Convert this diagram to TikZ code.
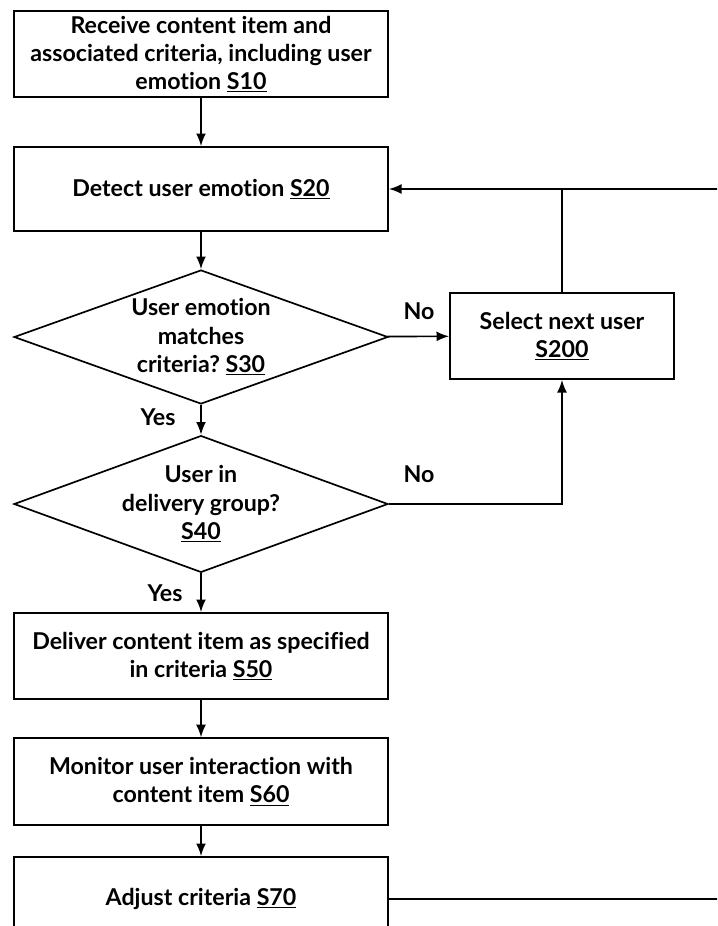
\documentclass[tikz,border=0pt]{standalone}
\usepackage{fontspec}
\setmainfont{Lato}[Ligatures=NoCommon]
\usetikzlibrary{shapes.geometric,arrows.meta}
\frenchspacing

\tikzset{
  stepbox/.style={draw, line width=1.2pt, minimum width=9.35cm, align=center, inner sep=2pt},
  decision/.style={draw, diamond, line width=1.2pt, inner sep=0pt, minimum width=9.35cm},
  flow/.style={line width=1.2pt, -{Latex[length=9pt,width=7pt]}},
  line/.style={line width=1.2pt}
}

\begin{document}
\begin{tikzpicture}[font=\bfseries\fontsize{16.5}{20}\selectfont]
\useasboundingbox (0,0) rectangle (17.925,-23.15);
\clip (0,0) rectangle (17.925,-23.15);
\fill[white] (0,0) rectangle (17.925,-23.15);

\node[stepbox, minimum height=2.15cm] (s10) at (5.025,-1.35) {Receive content item and\\associated criteria, including user\\emotion \underline{S10}};
\node[stepbox, minimum height=2.1cm] (s20) at (5.025,-4.725) {Detect user emotion \underline{S20}};
\node[decision, minimum height=3.35cm] (s30) at (5.025,-8.425) {};
\node[align=center] (s30text) at (s30) {User emotion\\matches\\criteria? \underline{S30}};
\node[decision, minimum height=3.42cm] (s40) at (5.025,-12.6) {};
\node[align=center] (s40text) at (s40) {User in\\delivery group?\\\underline{S40}};
\node[stepbox, minimum height=2.15cm] (s50) at (5.025,-16.4) {Deliver content item as specified\\in criteria \underline{S50}};
\node[stepbox, minimum height=2.17cm] (s60) at (5.025,-19.54) {Monitor user interaction with\\content item \underline{S60}};
\node[stepbox, minimum height=2.1cm] (s70) at (5.025,-22.475) {Adjust criteria \underline{S70}};
\node[stepbox, minimum width=5.6cm, minimum height=2.15cm] (s200) at (14.05,-8.4) {Select next user\\\underline{S200}};

\node (yes1) at (3.95,-10.425) {Yes};
\node (yes2) at (4.125,-14.825) {Yes};
\node (no1) at (10.475,-7.775) {No};
\node (no2) at (10.475,-11.85) {No};

\coordinate (loopbot) at (18.5,-22.475);
\coordinate (looptop) at (18.5,-4.725);

\draw[flow] (s10) -- (s20);
\draw[flow] (s20) -- (s30);
\draw[flow] (s30) -- (s40);
\draw[flow] (s40) -- (s50);
\draw[flow] (s50) -- (s60);
\draw[flow] (s60) -- (s70);
\draw[flow] (s30) -- (s200);
\draw[flow] (s40.east) -| (s200.south);
\draw[line] (s200.north) -- (s200.north |- s20.east);
\draw[flow] (s70.east) -- (loopbot) -- (looptop) -- (s20.east);
\end{tikzpicture}
\end{document}
